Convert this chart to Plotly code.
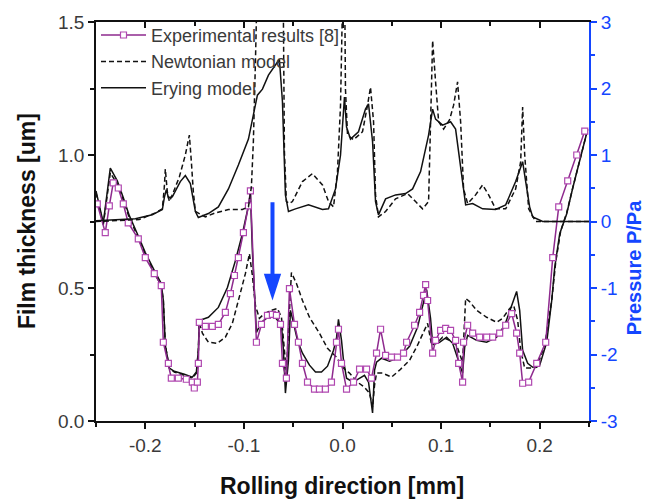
import plotly.graph_objects as go

# ---------------- data ----------------
# Experimental film thickness [um]
x_exp = [-0.2487, -0.2406, -0.2365, -0.2325, -0.2274, -0.2223, -0.2173, -0.2071, -0.2000, -0.1909,
         -0.1838, -0.1817, -0.1766, -0.1736, -0.1665, -0.1584, -0.1523, -0.1503, -0.1472, -0.1462,
         -0.1452, -0.1391, -0.1320, -0.1259, -0.1188, -0.1137, -0.1096, -0.1056, -0.1005, -0.0954,
         -0.0934, -0.0873, -0.0822, -0.0761, -0.0711, -0.0670, -0.0629, -0.0609, -0.0569, -0.0538,
         -0.0487, -0.0447, -0.0406, -0.0355, -0.0284, -0.0234, -0.0173, -0.0112, -0.0061, -0.0041,
         -0.0010, 0.0041, 0.0112, 0.0173, 0.0244, 0.0294, 0.0345, 0.0386, 0.0437, 0.0497,
         0.0558, 0.0619, 0.0650, 0.0731, 0.0782, 0.0822, 0.0843, 0.0863, 0.0914, 0.0944,
         0.0995, 0.1046, 0.1096, 0.1147, 0.1178, 0.1218, 0.1228, 0.1269, 0.1320, 0.1391,
         0.1462, 0.1523, 0.1594, 0.1655, 0.1716, 0.1766, 0.1797, 0.1827, 0.1888, 0.1970,
         0.2061, 0.2132, 0.2193, 0.2284, 0.2376, 0.2457]
film_exp = [0.816, 0.708, 0.809, 0.895, 0.876, 0.816, 0.745, 0.685, 0.614, 0.554,
            0.509, 0.296, 0.217, 0.161, 0.161, 0.157, 0.146, 0.124, 0.146, 0.217,
            0.371, 0.356, 0.356, 0.363, 0.408, 0.479, 0.547, 0.614, 0.708, 0.809,
            0.865, 0.296, 0.363, 0.397, 0.401, 0.397, 0.363, 0.217, 0.161, 0.498,
            0.363, 0.296, 0.217, 0.146, 0.120, 0.120, 0.120, 0.146, 0.296, 0.345,
            0.217, 0.120, 0.146, 0.195, 0.195, 0.161, 0.255, 0.345, 0.247, 0.240,
            0.240, 0.255, 0.296, 0.360, 0.408, 0.472, 0.513, 0.453, 0.255, 0.303,
            0.341, 0.348, 0.341, 0.303, 0.217, 0.146, 0.296, 0.360, 0.330, 0.315,
            0.315, 0.315, 0.330, 0.360, 0.404, 0.330, 0.255, 0.142, 0.146, 0.217,
            0.296, 0.614, 0.805, 0.903, 1.000, 1.090]

# Erying model film thickness [um]
x_ery_film = [-0.25, -0.2426, -0.2355, -0.2284, -0.2223, -0.2162, -0.2081, -0.2000, -0.1909, -0.1838,
              -0.1817, -0.1797, -0.1756, -0.1706, -0.1604, -0.1523, -0.1482, -0.1462, -0.1452, -0.1360,
              -0.1259, -0.1167, -0.1086, -0.1015, -0.0954, -0.0934, -0.0914, -0.0893, -0.0873, -0.0822,
              -0.0772, -0.0690, -0.0619, -0.0599, -0.0579, -0.0548, -0.0528, -0.0508, -0.0457, -0.0406,
              -0.0335, -0.0274, -0.0213, -0.0152, -0.0091, -0.0061, -0.0041, -0.0010, 0.0010, 0.0041,
              0.0091, 0.0142, 0.0223, 0.0264, 0.0284, 0.0305, 0.0325, 0.0345, 0.0396, 0.0477,
              0.0579, 0.0680, 0.0761, 0.0822, 0.0853, 0.0893, 0.0914, 0.0985, 0.1056, 0.1117,
              0.1178, 0.1218, 0.1239, 0.1269, 0.1360, 0.1462, 0.1563, 0.1645, 0.1716, 0.1766,
              0.1797, 0.1827, 0.1878, 0.1929, 0.2000, 0.2071, 0.2122, 0.2152, 0.2203, 0.2274,
              0.2335, 0.2406, 0.2487]
film_ery = [0.865, 0.745, 0.951, 0.903, 0.839, 0.772, 0.704, 0.633, 0.566, 0.517,
            0.453, 0.285, 0.199, 0.187, 0.176, 0.165, 0.184, 0.266, 0.378, 0.390,
            0.427, 0.502, 0.603, 0.704, 0.809, 0.858, 0.640, 0.453, 0.333, 0.371,
            0.386, 0.393, 0.360, 0.266, 0.105, 0.228, 0.416, 0.386, 0.303, 0.255,
            0.210, 0.184, 0.184, 0.206, 0.266, 0.311, 0.382, 0.303, 0.228, 0.161,
            0.150, 0.154, 0.172, 0.146, 0.097, 0.030, 0.191, 0.221, 0.236, 0.225,
            0.240, 0.281, 0.352, 0.453, 0.494, 0.386, 0.292, 0.296, 0.315, 0.292,
            0.228, 0.180, 0.277, 0.322, 0.303, 0.296, 0.315, 0.360, 0.434, 0.487,
            0.416, 0.266, 0.217, 0.202, 0.210, 0.296, 0.453, 0.577, 0.704, 0.779,
            0.876, 0.978, 1.097]

# Newtonian model film thickness [um]
x_newt_film = [-0.25, -0.2426, -0.2355, -0.2284, -0.2223, -0.2162, -0.2081, -0.2000, -0.1909, -0.1838,
               -0.1817, -0.1797, -0.1756, -0.1706, -0.1604, -0.1523, -0.1482, -0.1462, -0.1452, -0.1421,
               -0.1360, -0.1269, -0.1188, -0.1117, -0.1056, -0.0985, -0.0944, -0.0914, -0.0883, -0.0843,
               -0.0792, -0.0721, -0.0660, -0.0619, -0.0589, -0.0569, -0.0548, -0.0518, -0.0467, -0.0406,
               -0.0335, -0.0234, -0.0152, -0.0061, 0.0000, 0.0071, 0.0152, 0.0223, 0.0274, 0.0305,
               0.0325, 0.0345, 0.0406, 0.0497, 0.0579, 0.0680, 0.0761, 0.0832, 0.0863, 0.0904,
               0.0954, 0.1015, 0.1086, 0.1157, 0.1198, 0.1218, 0.1249, 0.1289, 0.1360, 0.1462,
               0.1563, 0.1624, 0.1695, 0.1736, 0.1777, 0.1807, 0.1848, 0.1898, 0.1970, 0.2051,
               0.2122, 0.2162, 0.2213, 0.2274, 0.2335, 0.2406, 0.2487]
film_newt = [0.858, 0.738, 0.933, 0.891, 0.831, 0.764, 0.697, 0.625, 0.558, 0.509,
             0.453, 0.285, 0.199, 0.184, 0.172, 0.161, 0.180, 0.266, 0.371, 0.330,
             0.296, 0.292, 0.315, 0.367, 0.453, 0.554, 0.629, 0.547, 0.434, 0.386,
             0.404, 0.416, 0.423, 0.390, 0.266, 0.180, 0.341, 0.558, 0.517, 0.453,
             0.390, 0.330, 0.273, 0.240, 0.202, 0.180, 0.146, 0.127, 0.105, 0.052,
             0.135, 0.180, 0.180, 0.165, 0.191, 0.228, 0.285, 0.341, 0.367, 0.285,
             0.292, 0.315, 0.303, 0.285, 0.247, 0.221, 0.461, 0.449, 0.416, 0.390,
             0.371, 0.386, 0.423, 0.434, 0.378, 0.266, 0.199, 0.199, 0.202, 0.285,
             0.453, 0.596, 0.715, 0.783, 0.876, 0.978, 1.097]

# Erying model pressure [P/Pa]
x_ery_p = [-0.25, -0.2305, -0.2101, -0.1929, -0.1827, -0.1807, -0.1787, -0.1766, -0.1726, -0.1645,
           -0.1594, -0.1543, -0.1492, -0.1462, -0.1360, -0.1259, -0.1157, -0.1056, -0.0954, -0.0863,
           -0.0812, -0.0751, -0.0680, -0.0640, -0.0609, -0.0579, -0.0548, -0.0477, -0.0345, -0.0203,
           -0.0142, -0.0071, -0.0020, 0.0020, 0.0041, 0.0081, 0.0162, 0.0233, 0.0264, 0.0305,
           0.0335, 0.0365, 0.0437, 0.0538, 0.0640, 0.0711, 0.0792, 0.0873, 0.0914, 0.0944,
           0.1015, 0.1096, 0.1147, 0.1198, 0.1249, 0.1320, 0.1421, 0.1553, 0.1655, 0.1756,
           0.1827, 0.1858, 0.1898, 0.1929, 0.2030, 0.25]
p_ery = [0.01, 0.03, 0.04, 0.10, 0.18, 0.36, 0.48, 0.36, 0.37, 0.60,
         0.69, 0.57, 0.15, 0.06, 0.12, 0.22, 0.49, 0.85, 1.24, 1.90,
         1.99, 2.20, 2.35, 2.44, 1.80, 0.40, 0.15, 0.19, 0.25, 0.18,
         0.19, 0.49, 1.00, 1.87, 1.42, 1.24, 1.35, 1.69, 1.77, 1.20,
         0.30, 0.10, 0.34, 0.40, 0.42, 0.49, 0.75, 1.30, 1.69, 1.54,
         1.45, 1.50, 1.39, 0.85, 0.25, 0.27, 0.19, 0.18, 0.25, 0.60,
         0.90, 0.60, 0.22, 0.07, 0.00, 0.00]

# Newtonian model pressure [P/Pa]
x_newt_p = [-0.25, -0.2061, -0.1898, -0.1827, -0.1807, -0.1797, -0.1777, -0.1756, -0.1726, -0.1655,
            -0.1594, -0.1553, -0.1533, -0.1513, -0.1492, -0.1391, -0.1289, -0.1157, -0.1015, -0.0954,
            -0.0924, -0.0904, -0.0883, -0.0863, -0.0822, -0.0741, -0.0660, -0.0619, -0.0599, -0.0589,
            -0.0569, -0.0538, -0.0508, -0.0406, -0.0305, -0.0203, -0.0142, -0.0091, -0.0051, -0.0020,
            0.0000, 0.0010, 0.0020, 0.0030, 0.0051, 0.0112, 0.0203, 0.0254, 0.0284, 0.0315,
            0.0335, 0.0365, 0.0437, 0.0538, 0.0660, 0.0741, 0.0812, 0.0873, 0.0893, 0.0914,
            0.0944, 0.0975, 0.1025, 0.1086, 0.1127, 0.1167, 0.1198, 0.1228, 0.1269, 0.1350,
            0.1421, 0.1482, 0.1553, 0.1655, 0.1756, 0.1807, 0.1827, 0.1848, 0.1888, 0.1959,
            0.25]
p_newt = [0.00, 0.03, 0.13, 0.19, 0.52, 0.79, 0.45, 0.30, 0.40, 0.67,
          1.00, 1.30, 0.90, 0.45, 0.15, 0.07, 0.13, 0.18, 0.18, 0.22,
          0.52, 1.20, 2.40, 3.74, 3.59, 3.14, 3.59, 3.74, 3.00, 1.05,
          0.30, 0.27, 0.30, 0.60, 0.72, 0.55, 0.30, 0.22, 0.75, 1.75,
          3.29, 3.89, 3.89, 1.99, 1.30, 1.23, 1.35, 1.75, 2.02, 1.50,
          0.40, 0.07, 0.15, 0.34, 0.42, 0.30, 0.19, 0.30, 1.50, 2.72,
          2.10, 1.50, 1.39, 1.53, 1.75, 2.10, 1.50, 0.49, 0.27, 0.40,
          0.55, 0.40, 0.19, 0.19, 0.49, 0.90, 1.72, 1.00, 0.19, 0.00,
          0.00]

# axes / ticks
x_range = [-0.25, 0.25]
x_ticks = [-0.2, -0.1, 0.0, 0.1, 0.2]
x_tick_labels = ["-0.2", "-0.1", "0.0", "0.1", "0.2"]
film_range = [0.0, 1.5]
film_ticks = [0.0, 0.5, 1.0, 1.5]
film_tick_labels = ["0.0", "0.5", "1.0", "1.5"]
p_range = [-3, 3]
p_ticks = [-3, -2, -1, 0, 1, 2, 3]
p_tick_labels = ["-3", "-2", "-1", "0", "1", "2", "3"]

# highlight arrow (x position, film thickness from -> to)
arrow_x = [-0.071]
arrow_film_from = 0.828
arrow_film_to = [0.453]

# ---------------- styling ----------------
FONT = "Arial, Liberation Sans, sans-serif"
BLACK = "#111111"
GREY = "#3a3a3a"
BLUE = "#1446ff"
PURPLE = "#8e2a8e"
PURPLE_M = "#b048b0"
DASH = "5px,3px"

fig = go.Figure()

# pressure curves (right axis)
fig.add_trace(go.Scatter(x=x_newt_p, y=p_newt, yaxis="y2", mode="lines",
                         line=dict(color=BLACK, width=1.5, dash=DASH),
                         legendgroup="newt", showlegend=False, hoverinfo="skip"))
fig.add_trace(go.Scatter(x=x_ery_p, y=p_ery, yaxis="y2", mode="lines",
                         line=dict(color=BLACK, width=1.5),
                         legendgroup="ery", showlegend=False, hoverinfo="skip"))
# film thickness curves (left axis)
fig.add_trace(go.Scatter(x=x_newt_film, y=film_newt, mode="lines", name="Newtonian model",
                         line=dict(color=BLACK, width=1.5, dash=DASH),
                         legendgroup="newt", legendrank=2))
fig.add_trace(go.Scatter(x=x_ery_film, y=film_ery, mode="lines", name="Erying model",
                         line=dict(color=BLACK, width=1.5),
                         legendgroup="ery", legendrank=3))
fig.add_trace(go.Scatter(x=x_exp, y=film_exp, mode="lines+markers", name="Experimental results [8]",
                         line=dict(color=PURPLE, width=1.5),
                         marker=dict(symbol="square", size=6, color="white",
                                     line=dict(color=PURPLE_M, width=1.2)),
                         legendrank=1))
# arrow head (narrow triangle) of the highlight arrow
fig.add_trace(go.Scatter(x=arrow_x, y=arrow_film_to, mode="markers", showlegend=False,
                         hoverinfo="skip", cliponaxis=False,
                         marker=dict(symbol="arrow", angle=180, size=28, color=BLUE,
                                     line=dict(width=0), standoff=0)))
# dummy trace for the top frame axis
fig.add_trace(go.Scatter(x=[], y=[], xaxis="x2", showlegend=False, hoverinfo="skip"))

fig.update_layout(
    width=648, height=499,
    margin=dict(l=96, r=59, t=20, b=78),
    paper_bgcolor="white", plot_bgcolor="white",
    font=dict(family=FONT, size=18, color=GREY),
    showlegend=True,
    legend=dict(x=0.0, y=1.013, xanchor="left", yanchor="top",
                bgcolor="rgba(0,0,0,0)", font=dict(size=18, color=GREY),
                itemwidth=45, tracegroupgap=0, traceorder="normal"),
    xaxis=dict(range=x_range, tickmode="array", tickvals=x_ticks, ticktext=x_tick_labels,
               ticks="outside", ticklen=6, tickwidth=1.5, tickcolor=BLACK,
               showline=True, linecolor=BLACK, linewidth=1.5, showgrid=False, zeroline=False,
               tickfont=dict(size=19, color=GREY),
               minor=dict(tickmode="linear", tick0=-0.25, dtick=0.05, ticks="outside",
                          ticklen=4, tickwidth=1.5, tickcolor=BLACK, showgrid=False)),
    xaxis2=dict(range=x_range, overlaying="x", side="top", anchor="y",
                tickmode="array", tickvals=x_ticks, showticklabels=False,
                ticks="inside", ticklen=6, tickwidth=1.5, tickcolor=BLACK,
                showline=True, linecolor=BLACK, linewidth=1.5, showgrid=False, zeroline=False,
                minor=dict(tickmode="linear", tick0=-0.25, dtick=0.05, ticks="inside",
                           ticklen=4, tickwidth=1.5, tickcolor=BLACK, showgrid=False)),
    yaxis=dict(range=film_range, tickmode="array", tickvals=film_ticks, ticktext=film_tick_labels,
               ticks="outside", ticklen=6, tickwidth=1.5, tickcolor=BLACK,
               showline=True, linecolor=BLACK, linewidth=1.5, showgrid=False, zeroline=False,
               tickfont=dict(size=19, color=GREY),
               minor=dict(tickmode="linear", tick0=0, dtick=0.25, ticks="outside",
                          ticklen=4, tickwidth=1.5, tickcolor=BLACK, showgrid=False)),
    yaxis2=dict(range=p_range, overlaying="y", side="right", anchor="x",
                tickmode="array", tickvals=p_ticks, ticktext=p_tick_labels,
                ticks="outside", ticklen=6, tickwidth=2, tickcolor=BLUE,
                showline=True, linecolor=BLUE, linewidth=2, showgrid=False, zeroline=False,
                tickfont=dict(size=19, color=BLUE),
                minor=dict(tickmode="linear", tick0=0, dtick=0.5, ticks="outside",
                           ticklen=4, tickwidth=2, tickcolor=BLUE, showgrid=False)),
)

annotations = [
    dict(text="<b>Rolling direction [mm]</b>", xref="paper", yref="paper",
         x=0.499, y=-0.162, xanchor="center", yanchor="middle", showarrow=False,
         font=dict(size=23, color=BLACK, family=FONT)),
    dict(text="<b>Film thickness [um]</b>", xref="paper", yref="paper",
         x=-0.140, y=0.501, xanchor="center", yanchor="middle", showarrow=False,
         textangle=-90, font=dict(size=23, color=BLACK, family=FONT)),
    dict(text="<b>Pressure P/Pa</b>", xref="paper", yref="paper",
         x=1.093, y=0.385, xanchor="center", yanchor="middle", showarrow=False,
         textangle=-90, font=dict(size=20, color=BLUE, family=FONT)),
    # arrow shaft
    dict(x=arrow_x[0], y=arrow_film_to[0], ax=arrow_x[0], ay=arrow_film_from,
         xref="x", yref="y", axref="x", ayref="y", text="", showarrow=True,
         arrowhead=0, arrowwidth=4, arrowcolor=BLUE, standoff=20),
]
fig.update_layout(annotations=annotations)

fig.write_html("out.html")
